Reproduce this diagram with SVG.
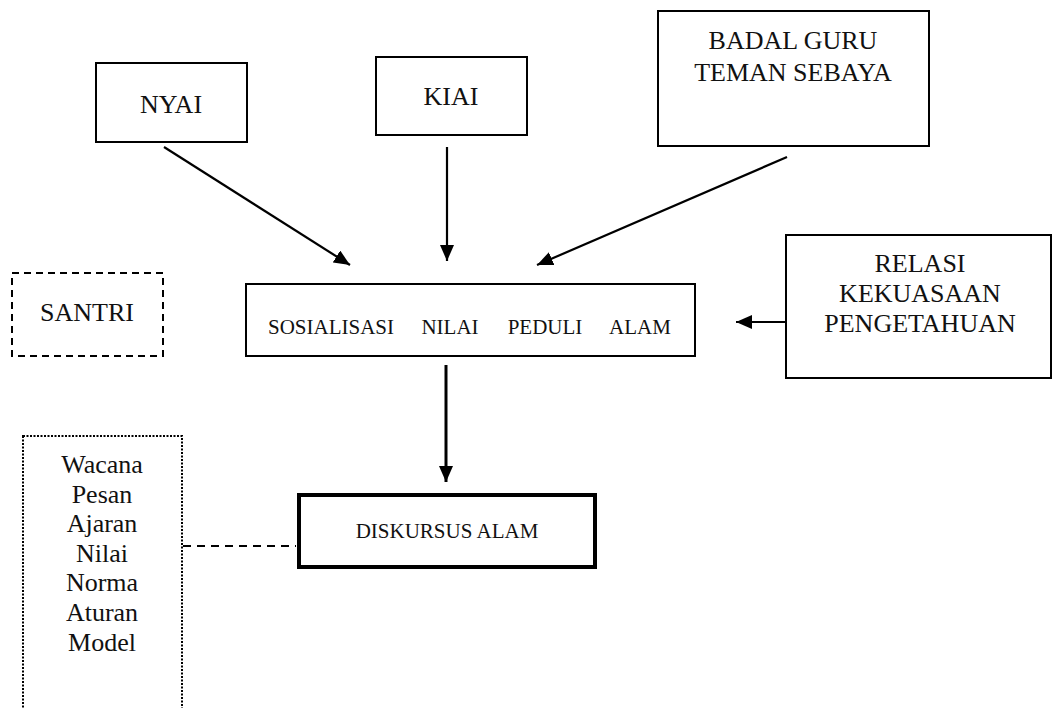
<svg xmlns="http://www.w3.org/2000/svg" width="1055" height="708" viewBox="0 0 1055 708">
<defs>
<style>
.box{fill:#fff;stroke:#000;stroke-width:2}
.t{font-family:"Liberation Serif","Times New Roman",serif;fill:#111;text-anchor:middle}
.big{font-size:26px}
.mid{font-size:21px}
.sm{font-size:21px}
.con{stroke:#000;stroke-width:2.2;fill:none}
</style>
<marker id="ah" markerUnits="userSpaceOnUse" markerWidth="18" markerHeight="14" refX="16" refY="7" orient="auto">
<path d="M0,0 L16,7 L0,14 Z" fill="#000"/>
</marker>
</defs>
<rect width="1055" height="708" fill="#fff"/>
<g id="connectors">
<line class="con" x1="164" y1="147" x2="350" y2="265" marker-end="url(#ah)"/>
<line class="con" x1="447" y1="147" x2="447" y2="261" marker-end="url(#ah)"/>
<line class="con" x1="787" y1="157" x2="537" y2="265" marker-end="url(#ah)"/>
<line class="con" x1="786" y1="322" x2="736" y2="322" marker-end="url(#ah)"/>
<line class="con" x1="446" y1="365" x2="446" y2="482" marker-end="url(#ah)" style="stroke-width:3"/>
<line class="con" x1="183" y1="546" x2="296" y2="546" stroke-dasharray="8,6"/>
</g>
<g id="nyai">
<rect class="box" x="96" y="63" width="151" height="79"/>
<text class="t big" x="171" y="113">NYAI</text>
</g>
<g id="kiai">
<rect class="box" x="376" y="57" width="151" height="78"/>
<text class="t big" x="451" y="105">KIAI</text>
</g>
<g id="badal">
<rect class="box" x="658" y="11" width="271" height="135"/>
<text class="t big" x="793" y="49">BADAL GURU</text>
<text class="t big" x="793" y="81">TEMAN SEBAYA</text>
</g>
<g id="santri">
<rect x="12" y="273" width="151" height="83" fill="none" stroke="#000" stroke-width="2" stroke-dasharray="7,5"/>
<text class="t big" x="87" y="321">SANTRI</text>
</g>
<g id="sosialisasi">
<rect class="box" x="246" y="284" width="449" height="72"/>
<text class="t mid" x="331" y="334">SOSIALISASI</text>
<text class="t mid" x="450" y="334">NILAI</text>
<text class="t mid" x="545" y="334">PEDULI</text>
<text class="t mid" x="640" y="334">ALAM</text>
</g>
<g id="relasi">
<rect class="box" x="786" y="235" width="265" height="143"/>
<text class="t big" x="920" y="272">RELASI</text>
<text class="t big" x="920" y="302">KEKUASAAN</text>
<text class="t big" x="920" y="332">PENGETAHUAN</text>
</g>
<g id="diskursus">
<rect x="299" y="495" width="296" height="72" fill="#fff" stroke="#000" stroke-width="4"/>
<text class="t sm" x="447" y="538">DISKURSUS ALAM</text>
</g>
<g id="list">
<rect x="23" y="436" width="159" height="290" fill="none" stroke="#000" stroke-width="2" stroke-dasharray="2,1.5"/>
<text class="t big" x="102" y="473">Wacana</text>
<text class="t big" x="102" y="503">Pesan</text>
<text class="t big" x="102" y="532">Ajaran</text>
<text class="t big" x="102" y="562">Nilai</text>
<text class="t big" x="102" y="591">Norma</text>
<text class="t big" x="102" y="621">Aturan</text>
<text class="t big" x="102" y="651">Model</text>
</g>
</svg>
